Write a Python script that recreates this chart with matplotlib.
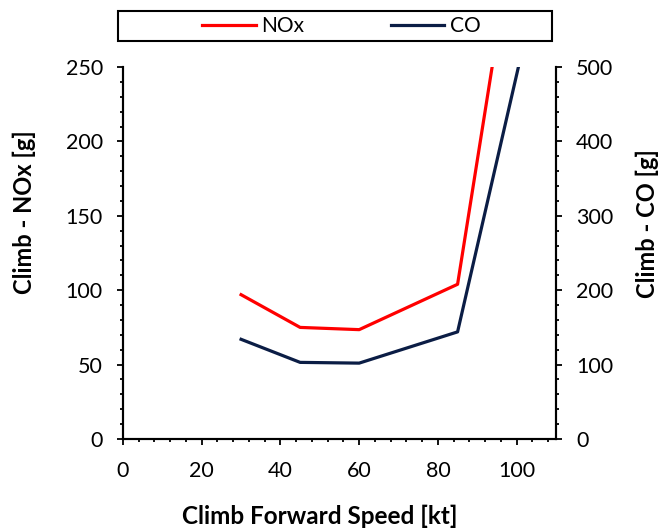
import matplotlib.pyplot as plt
from matplotlib.patches import Rectangle
from matplotlib.ticker import MultipleLocator

plt.rcParams['font.family'] = ['Lato', 'DejaVu Sans']

speed = [30, 45, 60, 85, 110]
nox = [97, 75, 73.5, 104, 520]
co = [134, 103, 102, 144, 720]

fig = plt.figure(figsize=(6.63, 5.32), dpi=100)
ax = fig.add_axes([0.1855, 0.1748, 0.6531, 0.6992])
ax2 = ax.twinx()

l1, = ax.plot(speed, nox, color='#FF0000', lw=2.3, label='NOx')
l2, = ax2.plot(speed, co, color='#0B1D45', lw=2.3, label='CO')

ax.set_xlim(0, 110)
ax.set_ylim(0, 250)
ax2.set_ylim(0, 500)

ax.xaxis.set_major_locator(MultipleLocator(20))
ax.xaxis.set_minor_locator(MultipleLocator(4))
ax.yaxis.set_major_locator(MultipleLocator(50))
ax.yaxis.set_minor_locator(MultipleLocator(10))
ax2.yaxis.set_major_locator(MultipleLocator(100))
ax2.yaxis.set_minor_locator(MultipleLocator(20))

for a in (ax, ax2):
    a.tick_params(which='major', length=4.5, width=1.3, labelsize=15.5,
                  direction='out', pad=10)
    a.tick_params(which='minor', length=2.5, width=1.3, direction='out')
    for s in a.spines.values():
        s.set_linewidth(1.5)
ax.tick_params(axis='x', pad=11)
ax.spines['top'].set_visible(False)
ax2.spines['top'].set_visible(False)

ax.set_xlabel('Climb Forward Speed [kt]', fontsize=17.5, fontweight='bold')
ax.set_ylabel('Climb - NOx [g]', fontsize=17, fontweight='bold')
ax2.set_ylabel('Climb - CO [g]', fontsize=17, fontweight='bold')
ax.xaxis.set_label_coords(0.455, -0.177)
ax.yaxis.set_label_coords(-0.2, 0.61)
ax2.yaxis.set_label_coords(1.183, 0.58)

fig.patches.append(Rectangle((118 / 663, 1 - 41 / 532), 434 / 663, 30 / 532,
                             transform=fig.transFigure, fill=False,
                             edgecolor='black', lw=1.5))
fig.legend(handles=[l1, l2], loc='center', bbox_to_anchor=(0.515, 1 - 26 / 532),
           ncol=2, frameon=False, fontsize=15, handlelength=2.55,
           columnspacing=4.2, handletextpad=0.25)

fig.savefig('out.png', dpi=100)
